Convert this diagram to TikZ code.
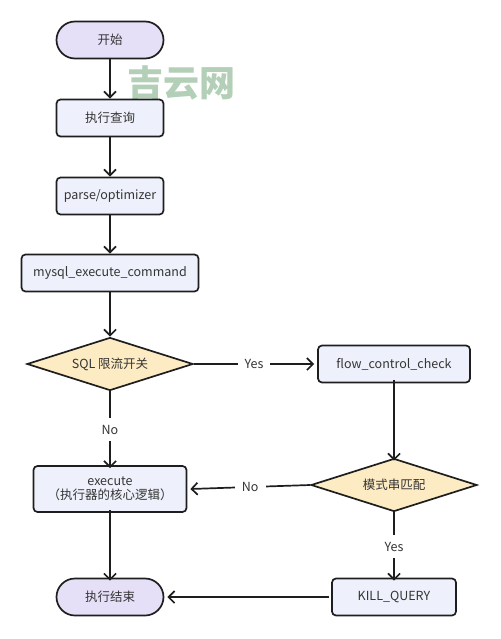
\documentclass[tikz,border=0pt]{standalone}
\usepackage{fontspec}
\setmainfont{Noto Sans CJK SC}
\usepackage{xcolor}
\usetikzlibrary{shapes.geometric,arrows.meta}
\definecolor{boxblue}{HTML}{EEF1FB}
\definecolor{termpurple}{HTML}{E6DFF8}
\definecolor{decyellow}{HTML}{FDEBC3}
\definecolor{linegray}{HTML}{1E1E1E}
\definecolor{markgreen}{HTML}{B3CFB7}

\begin{document}
\begin{tikzpicture}[
    x=1pt, y=-1pt,
    font=\fontsize{12.5}{14}\selectfont,
    every node/.style={text=linegray!90},
    stepbox/.style={draw=linegray, line width=1.7pt, fill=boxblue, rounded corners=4pt,
                    minimum height=37pt, inner sep=3pt, align=center},
    termbox/.style={draw=linegray, line width=1.7pt, fill=termpurple, rounded corners=18.5pt,
                    minimum width=107pt, minimum height=37pt},
    decbox/.style={draw=linegray, line width=1.7pt, fill=decyellow, diamond, aspect=3,
                   inner sep=0pt, minimum width=166pt, minimum height=53pt},
    arr/.style={draw=linegray, line width=1.7pt, -{Straight Barb[length=6pt,width=12pt]}},
    lbl/.style={fill=white, inner sep=7pt}
]
    \useasboundingbox (0,0) rectangle (500,639);

    % 水印
    \node[text=markgreen, font=\fontsize{36}{38}\bfseries] (mark) at (181,83) {吉云网};

    \node[termbox] (start) at (110,40) {开始};
    \node[stepbox, minimum width=107pt] (query) at (110,118) {执行查询};
    \node[stepbox, minimum width=107pt] (parse) at (110,196) {parse/optimizer};
    \node[stepbox, minimum width=177pt] (mysql) at (110,273) {mysql\_execute\_command};
    \node[decbox] (sw) at (110,364) {SQL 限流开关};
    \node[stepbox, minimum width=152pt] (flow) at (394,364) {flow\_control\_check};
    \node[decbox] (match) at (394,485) {模式串匹配};
    \node[stepbox, minimum width=153pt, minimum height=46pt, inner sep=1pt] (exec) at (110,489)
        {execute\\（执行器的核心逻辑）};
    \node[stepbox, minimum width=124pt] (kill) at (394,597) {KILL\_QUERY};
    \node[termbox] (stop) at (110,597) {执行结束};

    \draw[arr] (start) -- (query);
    \draw[arr] (query) -- (parse);
    \draw[arr] (parse) -- (mysql);
    \draw[arr] (mysql) -- (sw);
    \draw[arr] (sw.east) -- node[lbl] (yes1) {Yes} ([xshift=-3pt]flow.west);
    \draw[arr] (sw.south) -- node[lbl] (no1) {No} ([yshift=-3pt]exec.north);
    \draw[arr] ([yshift=3pt]flow.south) -- ([yshift=-3pt]match.north);
    \draw[arr] (match.west) -- node[lbl] (no2) {No} ([xshift=3pt]exec.east);
    \draw[arr] (match.south) -- node[lbl] (yes2) {Yes} ([yshift=-3pt]kill.north);
    \draw[arr] ([yshift=3pt]exec.south) -- ([yshift=-3pt]stop.north);
    \draw[arr] ([xshift=-2pt]kill.west) -- ([xshift=3pt]stop.east);
\end{tikzpicture}
\end{document}
